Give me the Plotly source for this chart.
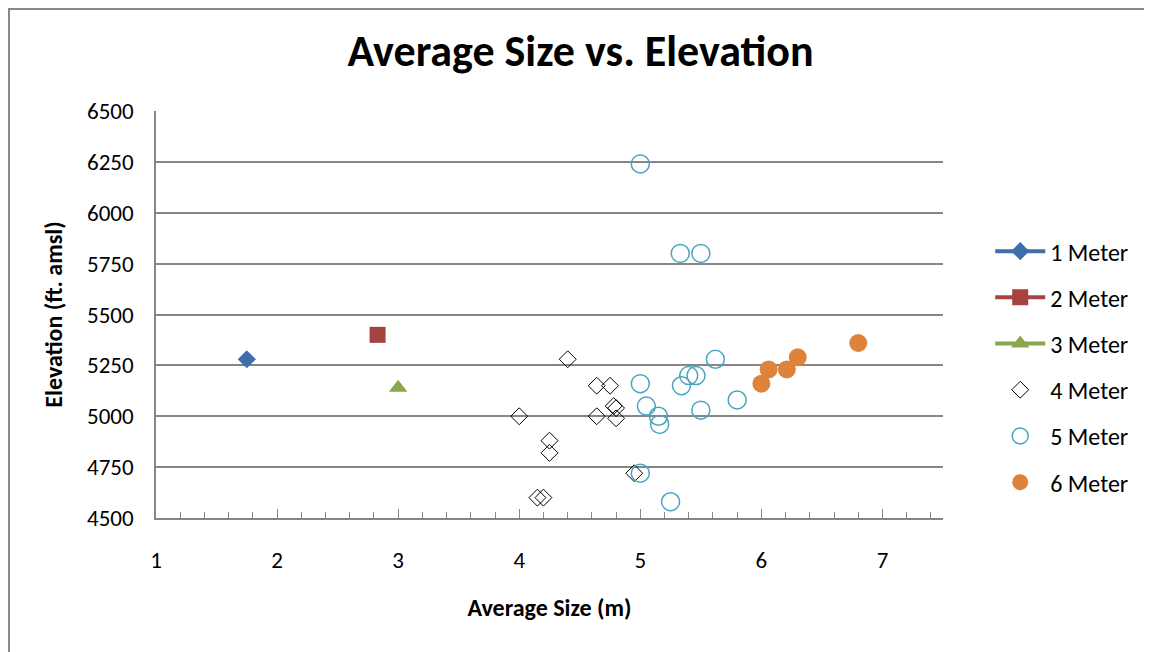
"""Average size vs. elevation scatter, Excel-style."""
import plotly.graph_objects as go

# series data (x = average size m, y = elevation ft amsl)
m1_x = [1.75]
m1_y = [5280]

m2_x = [2.83]
m2_y = [5400]

m3_x = [3.0]
m3_y = [5140]

m4_x = [4.40, 4.64, 4.75, 4.00, 4.64, 4.78, 4.80, 4.80, 4.25, 4.25, 4.95, 4.15, 4.20]
m4_y = [5280, 5150, 5150, 5000, 5000, 5050, 5040, 4990, 4880, 4820, 4720, 4600, 4600]

m5_x = [5.0, 5.33, 5.50, 5.62, 5.40, 5.46, 5.34, 5.0, 5.80, 5.05, 5.50, 5.15, 5.16, 5.0, 5.25]
m5_y = [6240, 5800, 5800, 5280, 5200, 5200, 5150, 5160, 5080, 5050, 5030, 5000, 4960, 4720, 4580]

m6_x = [6.0, 6.06, 6.21, 6.30, 6.80]
m6_y = [5160, 5230, 5230, 5290, 5360]

FONT = "Carlito, Lato, sans-serif"
GRID = "#868686"

fig = go.Figure()

fig.add_trace(go.Scatter(x=m1_x, y=m1_y, name="1 Meter", mode="lines+markers",
                         line=dict(color="#3E6FAA", width=4),
                         marker=dict(symbol="diamond", size=14, color="#3E6FAA"),
                         legendgroup="g1"))
fig.add_trace(go.Scatter(x=m2_x, y=m2_y, name="2 Meter", mode="lines+markers",
                         line=dict(color="#A6423F", width=4),
                         marker=dict(symbol="square", size=16, color="#A6423F"),
                         legendgroup="g2"))
fig.add_trace(go.Scatter(x=m3_x, y=m3_y, name="3 Meter", mode="lines+markers",
                         line=dict(color="#89A54E", width=4),
                         marker=dict(symbol="triangle-up", size=16, color="#89A54E"),
                         legendgroup="g3"))
fig.add_trace(go.Scatter(x=m4_x, y=m4_y, name="4 Meter", mode="markers",
                         marker=dict(symbol="diamond-open", size=13, color="black",
                                     line=dict(width=1)),
                         legendgroup="g4"))
fig.add_trace(go.Scatter(x=m5_x, y=m5_y, name="5 Meter", mode="markers",
                         marker=dict(symbol="circle-open", size=18, color="#4BA5C0",
                                     line=dict(width=1.5)),
                         legendgroup="g5"))
fig.add_trace(go.Scatter(x=m6_x, y=m6_y, name="6 Meter", mode="markers",
                         marker=dict(symbol="circle", size=18, color="#E0833A"),
                         legendgroup="g6"))

# page body adds ~8px offset, margins compensate for it
fig.update_layout(
    width=1152,
    height=652,
    margin=dict(l=148, r=217, t=103, b=142),
    paper_bgcolor="white",
    plot_bgcolor="white",
    font=dict(family=FONT, color="black", size=23),
    title=dict(text="<b>Average Size vs. Elevation</b>", x=0.497, xanchor="center",
               y=0.934, yanchor="middle", font=dict(size=44, family=FONT)),
    legend=dict(x=1.06, y=0.71, xanchor="left", yanchor="top",
                font=dict(size=24), tracegroupgap=12, itemwidth=50,
                traceorder="grouped"),
    # outer chart frame
    shapes=[dict(type="rect", xref="paper", yref="paper",
                 x0=-0.1868, x1=1.2618, y0=-0.4, y1=1.2506,
                 line=dict(color="#898989", width=2), layer="below")],
)

fig.update_xaxes(
    range=[1, 7.5], dtick=1, showgrid=False, zeroline=False,
    showline=True, linecolor=GRID, linewidth=2,
    ticks="inside", ticklen=9, tickcolor=GRID, tickwidth=1,
    minor=dict(dtick=0.2, ticks="inside", ticklen=6, tickcolor=GRID, showgrid=False),
    ticklabelstandoff=20,
    title=dict(text="<b>Average Size (m)</b>", font=dict(size=24), standoff=27),
)
fig.update_yaxes(
    range=[4500, 6500], dtick=250, showgrid=True, gridcolor=GRID, gridwidth=1.5,
    zeroline=False, showline=True, linecolor=GRID, linewidth=1.5,
    ticks="", ticklabelstandoff=16,
    title=dict(text="<b>Elevation (ft. amsl)</b>", font=dict(size=24), standoff=18),
)

fig.write_html("out.html")
